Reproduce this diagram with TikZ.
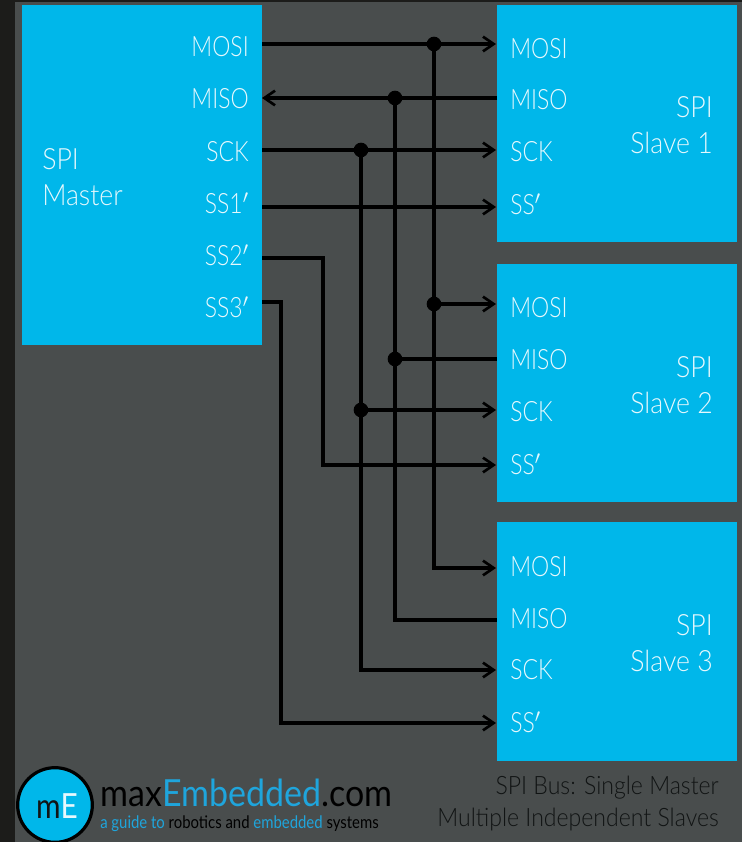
\documentclass[tikz,border=0pt]{standalone}
\usepackage{fontspec}
\usetikzlibrary{arrows.meta}
\setmainfont[FakeStretch=0.82]{Lato Light}
\newfontfamily\titlefont[FakeStretch=0.91]{Lato Light}
\newfontfamily\logofont[FakeStretch=0.86]{Lato}
\newfontfamily\sitefont[FakeStretch=0.91]{Lato}
\definecolor{bgc}{HTML}{494D4D}
\definecolor{edgec}{HTML}{1C1C1A}
\definecolor{boxc}{HTML}{00B7EA}
\definecolor{labc}{HTML}{E6F8FD}
\definecolor{captc}{HTML}{111414}
\definecolor{logoc}{HTML}{1FA5DC}
\tikzset{
 x=0.75pt,y=-0.75pt,
 block/.style={fill=boxc,draw=none},
 pin/.style={text=labc,font=\fontsize{21}{24}\selectfont,inner sep=0pt},
 title/.style={text=labc,font=\titlefont\fontsize{22}{27}\selectfont,inner sep=0pt},
 wire/.style={line width=2.4pt,draw=black},
 wirearrow/.style={wire,-{Straight Barb[length=8pt,width=11pt,line width=2pt]}},
 dot/.style={circle,fill=black,inner sep=0pt,minimum size=11pt},
 capt/.style={text=captc,font=\titlefont\fontsize{19}{24}\selectfont,inner sep=0pt,align=right},
}
\begin{document}
\begin{tikzpicture}
\useasboundingbox (0,0) rectangle (742,842);
\fill[edgec] (0,0) rectangle (742,842);
\fill[bgc] (15,2) rectangle (742,842);
% blocks
\fill[block] (22,5) rectangle (262,345);
\fill[block] (497,5) rectangle (737,242);
\fill[block] (497,264) rectangle (737,502);
\fill[block] (497,522) rectangle (737,761);
% master labels
\node[title,anchor=west,align=left] (mt) at (42,177) {SPI\\Master};
\foreach \n/\t/\y in {mMOSI/MOSI/47,mMISO/MISO/99,mSCK/SCK/152,mSSa/SS1$'$/203,mSSb/SS2$'$/255,mSSc/SS3$'$/307}{
  \node[pin,anchor=east] (\n) at (249,\y) {\t};
}
% slave labels
\foreach \s/\ya/\yb/\yc/\yd/\yt/\num in {a/49/100/152/204/125/1,b/308/360/412/464/385/2,c/567/619/670/722/643/3}{
  \node[pin,anchor=west] (\s MOSI) at (510,\ya) {MOSI};
  \node[pin,anchor=west] (\s MISO) at (510,\yb) {MISO};
  \node[pin,anchor=west] (\s SCK) at (510,\yc) {SCK};
  \node[pin,anchor=west] (\s SS) at (510,\yd) {SS$'$};
  \node[title,anchor=east,align=right] (\s T) at (713,\yt) {SPI\\Slave \num};
}
% ports
\coordinate (pm1) at (262,44);\coordinate (pm2) at (262,98);\coordinate (pm3) at (262,150);
\coordinate (pm4) at (262,207);\coordinate (pm5) at (262,258);\coordinate (pm6) at (262,302);
\coordinate (a1) at (496,44);\coordinate (a2) at (497,98);\coordinate (a3) at (496,150);\coordinate (a4) at (496,207);
\coordinate (b1) at (496,304);\coordinate (b2) at (497,359);\coordinate (b3) at (496,410);\coordinate (b4) at (496,465);
\coordinate (c1) at (496,568);\coordinate (c2) at (497,620);\coordinate (c3) at (496,670);\coordinate (c4) at (496,723);
% junctions
\node[dot] (j1) at (434,44) {};
\node[dot] (j2) at (395,98) {};
\node[dot] (j3) at (361,150) {};
\node[dot] (j4) at (434,304) {};
\node[dot] (j5) at (395,359) {};
\node[dot] (j6) at (361,410) {};
% wires
\draw[wirearrow] (pm1) -- (a1);
\draw[wire,line width=3.2pt] (pm1) -- (j1);
\draw[wirearrow] (a2) -- (pm2);
\draw[wirearrow] (pm3) -- (a3);
\draw[wirearrow] (pm4) -- (a4);
\draw[wirearrow] (j1.center) -- (j1.center |- c1) -- (c1);
\draw[wire] (j2.center) -- (j2.center |- c2) -- (c2);
\draw[wirearrow] (j3.center) -- (j3.center |- c3) -- (c3);
\draw[wirearrow] (j4.center) -- (b1);
\draw[wire] (j5.center) -- (b2);
\draw[wirearrow] (j6.center) -- (b3);
\draw[wirearrow] (pm5) -- (323,258) -- (323,465) -- (b4);
\draw[wirearrow] (pm6) -- (281,302) -- (281,723) -- (c4);
% caption
\node[capt,anchor=east] (c1t) at (719,788) {SPI Bus: Single Master};
\node[capt,anchor=east] (c2t) at (719,820) {Multiple Independent Slaves};
% logo
\node[circle,fill=boxc,draw=black,line width=2.4pt,minimum size=56pt,inner sep=0pt] (logo) at (55,805) {};
\node[inner sep=0pt,font=\logofont\fontsize{26}{28}\selectfont] (me) at (57,806) {\textcolor{captc}{m}\textcolor{labc}{E}};
\node[anchor=base west,inner sep=0pt,font=\sitefont\fontsize{28}{30}\selectfont] (site) at (100,806) {\textcolor{black}{max}\textcolor{logoc}{Embedded}\textcolor{black}{.com}};
\node[anchor=base west,inner sep=0pt,font=\logofont\fontsize{13}{15}\selectfont] (tag) at (100,828) {\textcolor{logoc}{a guide to} \textcolor{black}{robotics and} \textcolor{logoc}{embedded} \textcolor{black}{systems}};
\end{tikzpicture}
\end{document}
